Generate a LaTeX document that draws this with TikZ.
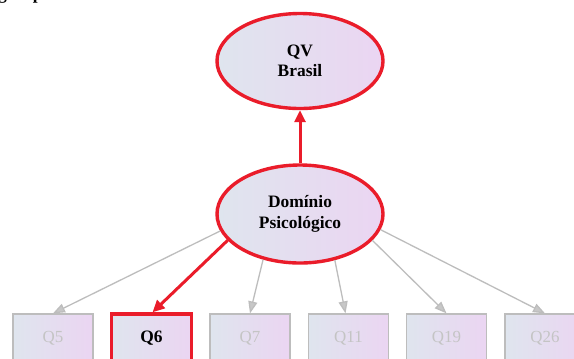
\documentclass[tikz,border=0pt]{standalone}
\usepackage{fontspec}
\setmainfont{Liberation Serif}
\usetikzlibrary{arrows.meta,shapes.geometric}
\definecolor{alarm}{HTML}{EA1C2A}
\definecolor{mute}{HTML}{BDBDBD}
\definecolor{mutetext}{HTML}{C4C4C4}
\definecolor{fillL}{HTML}{DFE5EE}
\definecolor{fillR}{HTML}{EBD5F2}
\tikzset{
  x=1bp, y=-1bp,
  grad/.style={left color=fillL, right color=fillR},
  latent/.style={ellipse, grad, draw=alarm, line width=3.4bp,
    minimum width=166bp, minimum height=95bp, inner sep=0pt,
    align=center, font=\bfseries\fontsize{17.5}{20.5}\selectfont},
  item/.style={rectangle, grad, draw=mute, line width=1.3bp,
    minimum width=80bp, minimum height=48bp, inner sep=0pt,
    text=mutetext, font=\fontsize{17}{19}\selectfont},
  hot/.style={draw=alarm, line width=3.4bp, text=black,
    font=\bfseries\fontsize{17.5}{19}\selectfont},
  loadline/.style={draw=mute, line width=1.3bp,
    -{Triangle[length=12bp, width=9bp, fill=mute!85]}},
  redline/.style={draw=alarm, line width=3bp,
    -{Triangle[length=12bp, width=11bp]}},
}
\begin{document}
\begin{tikzpicture}
\clip (0,0) rectangle (574,358);
\fill[white] (0,0) rectangle (574,358);

% caption line above the frame, only its descenders fall inside
\node[anchor=base west, inner sep=0pt, font=\bfseries\fontsize{17.5}{20}\selectfont]
  (cap) at (-2,-1) {group};

% latent variables
\node[latent] (qv) at (300,61) {QV\\Brasil};
\node[latent, minimum height=98bp] (dom) at (300,214) {Domínio\\Psicológico};

% observed items
\node[item] (q5)  at (53,338)    {Q5};
\node[item, hot] (q6) at (151.5,338) {Q6};
\node[item] (q7)  at (250,338)   {Q7};
\node[item] (q11) at (348.5,338) {Q11};
\node[item] (q19) at (446.5,338) {Q19};
\node[item] (q26) at (545,338)   {Q26};

% loadings
\draw[loadline] (dom.192) -- (q5.north);
\draw[loadline] (dom.231) -- (q7.north);
\draw[loadline] (dom.307) -- ([xshift=-3bp]q11.north);
\draw[loadline] (dom.340) -- (q19.north);
\draw[loadline] (dom.349) -- (q26.north);
\draw[redline] (dom.200) -- ([xshift=1bp]q6.north);
\draw[redline] (dom.north) -- (qv.south);
\end{tikzpicture}
\end{document}
